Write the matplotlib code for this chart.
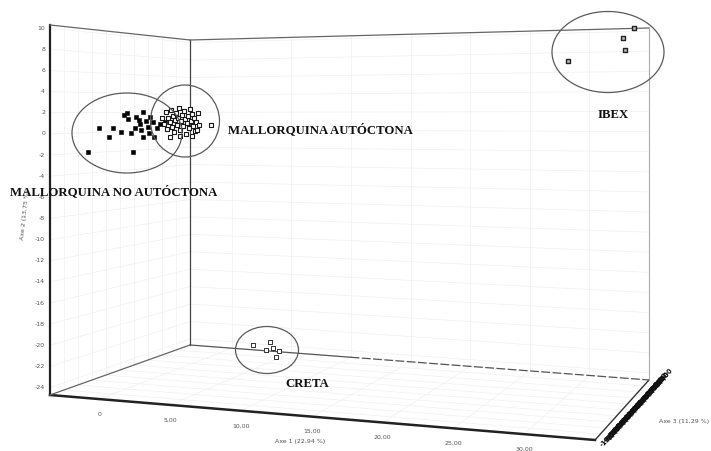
"""
3D scatter (ACP) - Mallorquina / Ibex / Creta
"""
import numpy as np
import matplotlib
matplotlib.use("Agg")
import matplotlib.pyplot as plt
from matplotlib.patches import Ellipse

# ---- datos (Axe 1, Axe 2, Axe 3) ----
no_aut_a1 = [-2.77, -1.97, -1.24, -0.95, -0.36, -0.14, 0.15, 0.51, 0.37, 0.73,
             1.02, 1.24, 1.24, 1.46, 1.61, 1.75, 2.04, 2.26, 2.48, 2.85,
             0.07, 0.66, 1.10, 1.68, 1.97, 0.95]
no_aut_a2 = [-1.84, 0.51, -0.36, 0.52, 0.13, 1.78, 1.40, -1.78, 0.05, 1.59,
             0.92, 2.07, -0.33, 1.21, 0.64, 1.60, -0.32, 0.54, 0.93, 1.12,
             1.98, 0.53, 0.34, 0.06, 1.12, 1.31]
no_aut_a3 = [-6.0] * len(no_aut_a1)

aut_a1 = [2.63, 2.77, 2.92, 2.99, 3.06, 3.21, 3.28, 3.36, 3.43, 3.50,
          3.58, 3.65, 3.72, 3.79, 3.87, 3.94, 4.01, 4.09, 4.16, 4.23,
          4.30, 4.38, 4.45, 4.52, 4.60, 4.67, 4.74, 4.82, 4.89, 4.96,
          5.03, 5.11, 5.25, 5.33, 5.18, 6.20, 3.94, 3.21, 4.82]
aut_a2 = [1.51, 0.94, 2.08, 0.46, 1.51, 1.13, 2.27, 0.65, 1.70, 0.18,
          1.32, 1.99, 0.84, 1.51, 2.46, 0.37, 1.22, 1.80, 0.75, 2.18,
          1.42, -0.01, 1.03, 1.70, 0.56, 2.37, 1.22, 1.89, 0.75, 1.51,
          0.27, 1.13, 1.99, 0.84, 0.37, 0.84, -0.20, -0.30, -0.20]
aut_a3 = [-6.0] * len(aut_a1)

ibex_a1 = [34.65, 33.77, 33.93, 29.32]
ibex_a2 = [10.03, 9.09, 7.94, 6.96]
ibex_a3 = [6.0, 6.0, 6.0, 6.0]

creta_a1 = [6.70, 8.00, 7.70, 8.23, 8.69, 8.47]
creta_a2 = [-21.15, -20.73, -21.56, -21.31, -21.57, -22.19]
creta_a3 = [0.0] * 6

# ejes
a1_lim = (-3.5, 35.0)
a2_lim = (-24.7, 10.3)
a3_lim = (-10.0, 10.0)
a1_ticks = [0, 5, 10, 15, 20, 25, 30]
a1_labels = ["0", "5,00", "10,00", "15,00", "20,00", "25,00", "30,00"]
a2_ticks = list(range(10, -25, -2))
a3_ticks = list(np.arange(-10, 10.01, 0.5))

# caja en perspectiva (pixeles): (u, v, w) -> esquina
caja = {
    (0, 0, 0): (50, 395), (1, 0, 0): (595, 440),
    (0, 1, 0): (50, 25), (1, 1, 0): (595, 13),
    (0, 0, 1): (190, 345), (1, 0, 1): (649, 380),
    (0, 1, 1): (190, 40), (1, 1, 1): (649, 28),
}


def norm(a, lim):
    return (np.asarray(a, dtype=float) - lim[0]) / (lim[1] - lim[0])


def proj_uvw(u, v, w):
    u, v, w = np.broadcast_arrays(np.asarray(u, float), np.asarray(v, float), np.asarray(w, float))
    x = np.zeros(u.shape)
    y = np.zeros(u.shape)
    for (i, j, k), (cx, cy) in caja.items():
        f = (u if i else 1 - u) * (v if j else 1 - v) * (w if k else 1 - w)
        x += f * cx
        y += f * cy
    return x, y


def proj(a1, a2, a3):
    return proj_uvw(norm(a1, a1_lim), norm(a2, a2_lim), norm(a3, a3_lim))


fig = plt.figure(figsize=(7.11, 4.51), dpi=100)
ax = fig.add_axes([0, 0, 1, 1])
ax.set_xlim(0, 711)
ax.set_ylim(451, 0)
ax.axis("off")

t = np.linspace(0, 1, 2)
grid_kw = dict(color="#f0f0f0", lw=0.5, zorder=1)

# rejilla
for val in a2_ticks:
    v = norm(val, a2_lim)
    ax.plot(*proj_uvw(t, v, 1), **grid_kw)
    ax.plot(*proj_uvw(0, v, t), **grid_kw)
for val in a1_ticks:
    u = norm(val, a1_lim)
    ax.plot(*proj_uvw(u, t, 1), **grid_kw)
    ax.plot(*proj_uvw(u, 0, t), **grid_kw)
for val in range(-10, 11, 2):
    w = norm(val, a3_lim)
    ax.plot(*proj_uvw(0, t, w), **grid_kw)
    ax.plot(*proj_uvw(t, 0, w), **grid_kw)

# aristas de la caja
def arista(p, q, **kw):
    x0, y0 = proj_uvw(*p)
    x1, y1 = proj_uvw(*q)
    ax.plot([x0, x1], [y0, y1], **kw)

arista((0, 0, 0), (0, 1, 0), color="#222222", lw=1.6, zorder=2)
arista((0, 0, 0), (1, 0, 0), color="#222222", lw=1.8, zorder=2)
arista((1, 0, 0), (1, 0, 1), color="#333333", lw=1.0, zorder=2)
arista((0, 1, 0), (0, 1, 1), color="#666666", lw=0.9, zorder=2)
arista((0, 0, 0), (0, 0, 1), color="#666666", lw=0.9, zorder=2)
arista((0, 0, 1), (0, 1, 1), color="#444444", lw=0.9, zorder=2)
arista((0, 1, 1), (1, 1, 1), color="#666666", lw=0.9, zorder=2)
arista((0, 0, 1), (0.35, 0, 1), color="#555555", lw=0.9, zorder=2)
arista((0.35, 0, 1), (1, 0, 1), color="#555555", lw=0.9, ls=(0, (7, 2)), zorder=2)
arista((1, 0, 1), (1, 1, 1), color="#aaaaaa", lw=0.8, zorder=2)

# etiquetas de ejes
lab_kw = dict(fontsize=4.5, color="#555555", family="DejaVu Sans")
for val in a2_ticks:
    x, y = proj(a1_lim[0], val, a3_lim[0])
    ax.text(x - 5, y, str(val), ha="right", va="center", **lab_kw)
for val, lab in zip(a1_ticks, a1_labels):
    x, y = proj(val, a2_lim[0], a3_lim[0])
    ax.text(x, y + 15, lab, ha="center", va="center", **lab_kw)
for val in a3_ticks:
    x, y = proj(a1_lim[1], a2_lim[0], val)
    ax.text(x + 15, y - 3, f"{val:.2f}".replace(".", ","), ha="center", va="center",
            rotation=48, fontsize=4.9, color="#111111", fontweight="bold")

ax.text(300, 441, "Axe 1 (22,94 %)", ha="center", va="center", **lab_kw)
ax.text(684, 421, "Axe 3 (11,29 %)", ha="center", va="center", **lab_kw)
ax.text(25, 215, "Axe 2 (13,75 %)", ha="center", va="center", rotation=84, **lab_kw)

# puntos
ax.scatter(*proj(no_aut_a1, no_aut_a2, no_aut_a3), marker="s", s=11,
           c="black", edgecolors="black", linewidths=0.4, zorder=4)
ax.scatter(*proj(aut_a1, aut_a2, aut_a3), marker="s", s=11,
           facecolors="white", edgecolors="#1a1a1a", linewidths=0.8, zorder=5)
ax.scatter(*proj(ibex_a1, ibex_a2, ibex_a3), marker="s", s=12,
           facecolors="#bbbbbb", edgecolors="#222222", linewidths=1.0, zorder=5)
ax.scatter(*proj(creta_a1, creta_a2, creta_a3), marker="s", s=9,
           facecolors="white", edgecolors="#333333", linewidths=0.7, zorder=5)

# elipses de grupo
ell_kw = dict(fill=False, edgecolor="#5a5a5a", lw=0.9, zorder=6)
ax.add_patch(Ellipse((127, 133), 110, 80, **ell_kw))
ax.add_patch(Ellipse((185, 121), 69, 72, **ell_kw))
ax.add_patch(Ellipse((608, 52), 112, 81, **ell_kw))
ax.add_patch(Ellipse((267, 350), 63, 47, **ell_kw))

grp_kw = dict(fontsize=9.2, fontweight="bold", family="Liberation Serif",
              color="#111111", va="center", zorder=7)
ax.text(228, 130, "MALLORQUINA AUTÓCTONA", ha="left", **grp_kw)
ax.text(10, 192, "MALLORQUINA NO AUTÓCTONA", ha="left", **grp_kw)
ax.text(613, 115, "IBEX", ha="center", **grp_kw)
ax.text(307, 384, "CRETA", ha="center", **grp_kw)

fig.savefig("out.png", dpi=100)
